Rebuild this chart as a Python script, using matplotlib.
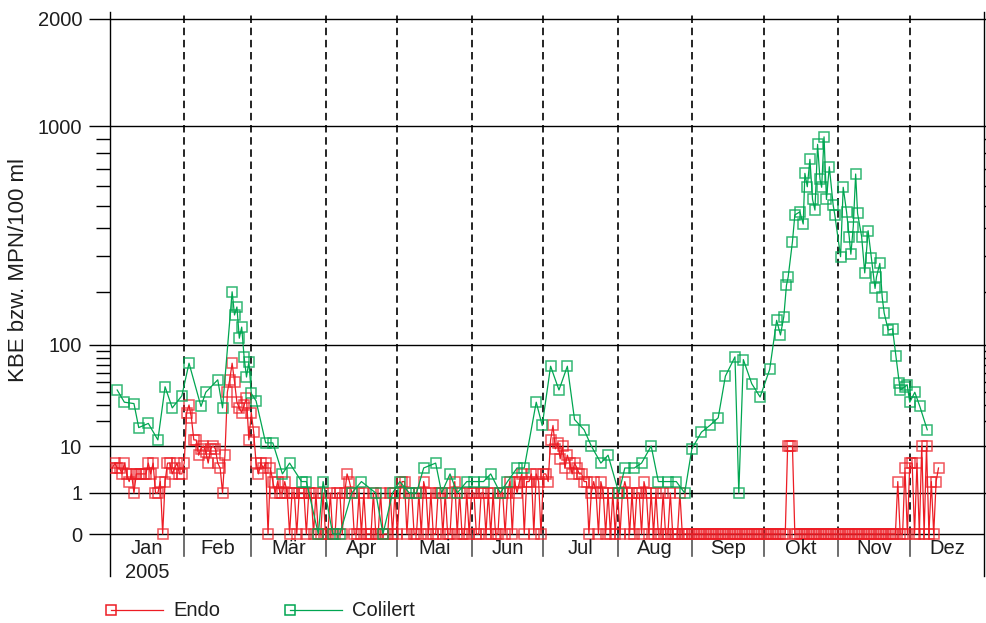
import numpy as np
import matplotlib.pyplot as plt
from matplotlib.lines import Line2D

plt.rcParams['font.family'] = ['Liberation Sans', 'DejaVu Sans']

# ======================
# Endo: daily values 2005 (from Jan 1)
# ======================
endo_jan = [4, 5, 4, 4, 3, 5, 3, 2, 3, 1, 3, 3, 3, 3, 3, 5, 3, 5, 1, 1, 2, 0, 2, 5, 5, 3, 4, 5, 3, 3, 5]
endo_feb = [25, 30, 22, 12, 12, 7, 9, 10, 8, 5, 9, 10, 9, 5, 4, 1, 7, 40, 52, 72, 50, 32, 28, 25, 30, 35, 12, 25]
endo_mar = [15, 5, 3, 5, 4, 5, 0, 4, 2, 1, 2, 1, 1, 2, 1, 0, 1, 1, 0, 1, 1, 1, 0, 1, 1, 0, 1, 0, 0, 1, 0]
endo_apr = [0, 1, 0, 0, 1, 1, 0, 1, 3, 2, 1, 0, 0, 1, 0, 1, 0, 0, 0, 1, 0, 0, 1, 0, 0, 0, 1, 0, 1, 0]
endo_mai = [1, 2, 2, 0, 1, 1, 0, 0, 1, 0, 2, 1, 0, 1, 0, 0, 1, 1, 0, 1, 0, 0, 1, 2, 0, 1, 0, 0, 1, 0, 1]
endo_jun = [1, 0, 0, 1, 1, 0, 1, 0, 1, 0, 0, 1, 1, 0, 1, 2, 0, 2, 1, 2, 3, 0, 2, 2, 3, 0, 3, 2, 0, 3]
endo_jul = [3, 2, 12, 18, 9, 11, 6, 10, 4, 7, 5, 3, 5, 4, 3, 3, 2, 2, 0, 1, 2, 1, 0, 2, 1, 0, 1, 0, 1, 0, 1]
endo_aug = [0, 1, 2, 1, 0, 1, 0, 1, 1, 0, 2, 1, 0, 1, 0, 1, 0, 0, 1, 0, 0, 1, 0, 0, 0, 1, 0, 0, 0, 0, 0]
endo_sep = [0] * 30
endo_okt = [0, 0, 0, 0, 0, 0, 0, 0, 0, 10, 10, 10, 0, 0, 0, 0, 0, 0, 0, 0, 0, 0, 0, 0, 0, 0, 0, 0, 0, 0, 0]
endo_nov = [0] * 24 + [2, 0, 0, 4, 0, 5]
endo_dez = [5, 0, 5, 0, 10, 0, 10, 0, 2, 0, 2, 4]

endo = (endo_jan + endo_feb + endo_mar + endo_apr + endo_mai + endo_jun
        + endo_jul + endo_aug + endo_sep + endo_okt + endo_nov + endo_dez)
endo_day = np.arange(1, len(endo) + 1)

# ======================
# Colilert: sample day and value
# ======================
coli_day = [3, 6, 10, 12, 16, 20, 23, 26, 30, 33, 38, 40, 45, 47,
            51, 52, 53, 54, 55, 56, 57, 58, 59, 61, 65, 68, 72, 75, 80, 82,
            87, 89, 93, 96, 101, 105, 111, 114, 118, 121, 125, 128, 131, 136,
            138.5, 142, 145, 149, 152, 156, 159, 163, 166, 170, 173,
            178, 180.5, 184, 187.5, 191, 194, 198, 201, 205, 208,
            212.5, 215, 219, 222, 226, 229, 233, 236.5, 240, 243,
            247, 250.5, 254, 257, 261, 262.6, 264.5, 268, 271.5, 275.5,
            278.4, 280, 281.4, 282.5, 283.2, 285, 286, 288.1, 289.5, 290.2,
            291.2, 292.3, 293.4, 294.4, 295.5, 296.5, 297.2, 298.2, 299.2, 300.4,
            302, 302.7, 305.1, 306.2, 307.6, 308.7, 309.4, 310.4, 311.4, 312.2,
            313.9, 315.2, 316.6, 318, 319.5, 320.1, 321.5, 322.5, 323.3, 325,
            326.8, 328.2, 329.6, 330.1, 331.9, 332.9, 334, 336.1, 338.2, 341.3]
coli_val = [42, 32, 31, 17, 19, 12, 45, 28, 37, 72, 29, 40, 52, 28,
            200, 150, 166, 110, 128, 81, 55, 74, 39, 33, 11, 11, 3, 5, 2, 2,
            0, 2, 0, 0, 1, 2, 1, 0, 1, 2, 1, 1, 4, 5,
            1, 3, 1, 2, 2, 2, 3, 1, 2, 4, 4,
            32, 18, 68, 42, 68, 21, 16, 10, 5, 7,
            1, 4, 4, 5, 10, 2, 2, 2, 1, 9,
            15, 18, 22, 56, 81, 1, 77, 48, 36, 64,
            140, 115, 147, 216, 237, 349, 457, 471, 418, 672,
            596, 759, 530, 479, 861, 637, 593, 916, 530, 712,
            503, 457, 298, 593, 471, 368, 306, 407, 668, 464,
            368, 249, 391, 293, 208, 238, 277, 187, 154, 123,
            125, 82, 49, 42, 45, 47, 32, 40, 29, 16]

months = ["Jan", "Feb", "Mär", "Apr", "Mai", "Jun", "Jul", "Aug", "Sep", "Okt", "Nov", "Dez"]
month_start = [0, 31, 59, 90, 120, 151, 181, 212, 243, 273, 304, 334, 365]

y_ticks = [0, 1, 10, 100, 1000, 2000]
y_minor = [20, 30, 40, 50, 60, 70, 80, 90, 200, 300, 400, 500, 600, 700, 800, 900]

# ======================
# piecewise y scale (0 / 1 / 10 / 100 / 1000 / 2000)
# ======================
anch_v = np.array([-1, 0, 1, 10, 100, 1000, 2000, 2400], dtype=float)
anch_u = np.array([-42, 0, 41, 88, 189, 408, 515, 522], dtype=float)


def g(v):
    return np.sign(v) * np.abs(v) ** 0.25


def ginv(t):
    return np.sign(t) * np.abs(t) ** 4


anch_g = g(anch_v)


def fwd(v):
    v = np.asarray(v, dtype=float)
    return np.interp(g(v), anch_g, anch_u)


def inv(u):
    u = np.asarray(u, dtype=float)
    return ginv(np.interp(u, anch_u, anch_g))


RED = '#ED1C24'
GREEN = '#00A651'
TXT = '#1e1e1e'

W, H = 987, 623
fig = plt.figure(figsize=(W / 100, H / 100), dpi=100)
ax = fig.add_axes([110 / W, 47 / H, 874 / W, 564 / H])
ax.set_yscale('function', functions=(fwd, inv))
ax.set_ylim(-1, 2400)
ax.set_xlim(0, 365)

ax.plot(endo_day, endo, color=RED, lw=0.9, marker='s', ms=7.5,
        mfc='none', mec=(0.93, 0.11, 0.14, 0.75), mew=1.1, zorder=3)
ax.plot(coli_day, coli_val, color=GREEN, lw=0.9, marker='s', ms=7.5,
        mfc='none', mec=(0.0, 0.65, 0.32, 0.8), mew=1.1, zorder=4)

# y axis
ax.set_yticks(y_ticks)
ax.set_yticklabels([str(t) for t in y_ticks])
ax.set_yticks(y_minor, minor=True)
ax.yaxis.set_minor_formatter(plt.NullFormatter())
ax.tick_params(axis='y', which='major', length=15, width=1, labelsize=14.5, pad=5, labelcolor=TXT)
ax.tick_params(axis='y', which='minor', length=10, width=1)
ax.grid(axis='y', which='major', color='black', lw=1)
ax.set_axisbelow(True)

# short ticks on the right side
ax2 = ax.twinx()
ax2.set_yscale('function', functions=(fwd, inv))
ax2.set_ylim(-1, 2400)
ax2.set_yticks([1, 10, 100, 1000, 2000])
ax2.set_yticks(y_minor, minor=True)
ax2.tick_params(axis='y', which='both', length=3, width=1, labelright=False)
for s in ['top', 'bottom', 'left', 'right']:
    ax2.spines[s].set_visible(False)

# x axis: no ticks, month labels inside
ax.tick_params(axis='x', bottom=False, labelbottom=False)
for s in ['top', 'bottom']:
    ax.spines[s].set_visible(False)
ax.spines['left'].set_linewidth(1)
ax.spines['right'].set_linewidth(1)

zero_frac = 42 / 564
for m in month_start[1:-1]:
    ax.axvline(m, ymin=zero_frac, ymax=1, color='black', lw=1.2, ls=(0, (4.5, 2.8)), zorder=1)
    ax.axvline(m, ymin=20 / 564, ymax=zero_frac, color='#555555', lw=1.2, zorder=1)

xt = ax.get_xaxis_transform()
for i, name in enumerate(months):
    mid = (month_start[i] + month_start[i + 1]) / 2
    ax.text(mid, 27 / 564, name, transform=xt, ha='center', va='center', fontsize=14.5, color=TXT)
ax.text((month_start[0] + month_start[1]) / 2, 4 / 564, "2005", transform=xt,
        ha='center', va='center', fontsize=14.5, color=TXT)

fig.text(19 / W, 1 - 270 / H, "KBE bzw. MPN/100 ml", rotation=90,
         ha='center', va='center', fontsize=16, color=TXT)

# legend
ly = 1 - 610 / H
for x0, col, label in [(111, RED, "Endo"), (290, GREEN, "Colilert")]:
    fig.add_artist(Line2D([x0 / W, (x0 + 52) / W], [ly, ly], transform=fig.transFigure, color=col, lw=0.9))
    fig.add_artist(Line2D([x0 / W], [ly], transform=fig.transFigure, color=col, marker='s', ms=7.5,
                          mfc='none', mew=1.1))
    fig.text((x0 + 62) / W, ly, label, ha='left', va='center', fontsize=14.5, color=TXT)

plt.savefig("out.png", dpi=100)
